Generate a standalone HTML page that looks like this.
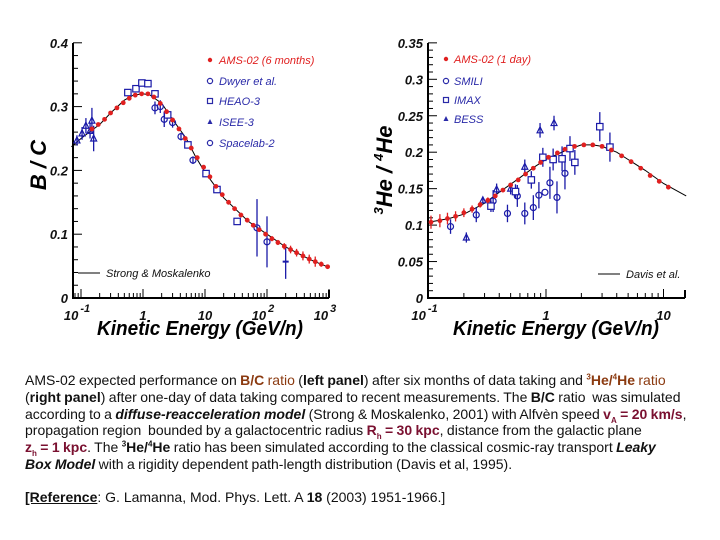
<!DOCTYPE html>
<html><head><meta charset="utf-8">
<style>
html,body{margin:0;padding:0;background:#fff;}
body{width:720px;height:540px;position:relative;overflow:hidden;font-family:"Liberation Sans",Arial,sans-serif;}
#cap{position:absolute;left:25px;top:372px;width:695px;font-size:14px;line-height:16.8px;color:#111;letter-spacing:0;word-spacing:-0.5px;white-space:nowrap;}
#cap sup,#cap sub{font-size:8px;line-height:0;}
#cap .br{color:#8b3a10;}
#cap .mr{color:#7a1030;font-weight:bold;}
#ref{position:absolute;left:25px;top:489px;font-size:14px;color:#111;letter-spacing:0;white-space:nowrap;}
</style></head><body>
<svg id="chart" width="720" height="370" style="position:absolute;left:0;top:0" xmlns="http://www.w3.org/2000/svg"></svg>
<div id="cap">AMS-02 expected performance on <b class="br">B/C</b> <span class="br">ratio</span> (<b>left panel</b>) after six months of data taking and <b class="br"><sup>3</sup>He/<sup>4</sup>He</b> <span class="br">ratio</span><br>(<b>right panel</b>) after one-day of data taking compared to recent measurements. The <b>B/C</b> ratio&nbsp; was simulated<br>according to a <b><i>diffuse-reacceleration model</i></b> (Strong &amp; Moskalenko, 2001) with Alfvèn speed <span class="mr">v<sub>A</sub> = 20 km/s</span>,<br>propagation region&nbsp; bounded by a galactocentric radius <span class="mr">R<sub>h</sub> = 30 kpc</span>, distance from the galactic plane<br><span class="mr">z<sub>h</sub> = 1 kpc</span>. The <b><sup>3</sup>He/<sup>4</sup>He</b> ratio has been simulated according to the classical cosmic-ray transport <b><i>Leaky</i></b><br><b><i>Box Model</i></b> with a rigidity dependent path-length distribution (Davis et al, 1995).</div>
<div id="ref"><b><u>[Reference</u></b>: G. Lamanna, Mod. Phys. Lett. A <b>18</b> (2003) 1951-1966.]</div>
<script>
// ---- Left panel data (B/C) ----
const bcModelE = [0.07,0.1,0.15,0.2,0.3,0.5,0.7,1,1.3,2,3,5,7,10,20,50,100,200,500,1000];
const bcModelY = [0.237,0.25,0.263,0.272,0.29,0.31,0.318,0.32,0.318,0.305,0.28,0.25,0.222,0.197,0.157,0.12,0.1,0.08,0.06,0.048];
const bcAmsE = [0.15,0.19,0.24,0.3,0.38,0.48,0.6,0.75,0.95,1.2,1.5,1.9,2.4,3.0,3.8,4.8,6.0,7.5,9.5,12,15,19,24,30,38,48,60,75,95,120,150,190,240,300,380,480,600,750,950];
const bcAmsY = [0.265,0.272,0.28,0.29,0.298,0.306,0.313,0.318,0.32,0.32,0.315,0.305,0.292,0.279,0.265,0.25,0.235,0.22,0.205,0.19,0.175,0.162,0.15,0.14,0.13,0.122,0.114,0.107,0.1,0.093,0.087,0.081,0.076,0.071,0.066,0.061,0.057,0.053,0.049];
const bcAmsErr = [0,0,0,0,0,0,0,0,0,0,0,0,0,0,0,0,0,0,0,0,0,0,0,0,0,0,0,0,0.003,0.004,0.004,0.005,0.006,0.006,0.007,0.007,0.008,0.004,0.002];
const dwyerE = [1.56,1.9,2.2,3.0,4.1,6.4,69,100];
const dwyerY = [0.298,0.3,0.28,0.275,0.253,0.216,0.11,0.088];
const dwyerErr = [0.01,0.01,0.012,0.008,0.006,0.006,0.045,0.04];
const heaoE = [0.57,0.77,0.96,1.2,1.56,2.5,5.3,10.4,15.6,33];
const heaoY = [0.322,0.328,0.337,0.336,0.32,0.287,0.24,0.195,0.17,0.12];
const iseeE = [0.086,0.104,0.12,0.14,0.15,0.16];
const iseeY = [0.247,0.258,0.27,0.262,0.278,0.25];
const iseeErr = [0.008,0.01,0.012,0.012,0.02,0.02];
const spaceE = [200];
const spaceY = [0.057];
const spaceErr = [0.027];
const bcYTicks = [0,0.1,0.2,0.3,0.4];
const bcYLabels = ["0","0.1","0.2","0.3","0.4"];

// ---- Right panel data (3He/4He) ----
const heModelE = [0.1,0.15,0.2,0.3,0.4,0.6,0.8,1,1.5,2,2.5,3,4,5,7,10,15.6];
const heModelY = [0.104,0.109,0.115,0.13,0.145,0.165,0.18,0.19,0.203,0.21,0.21,0.208,0.2,0.19,0.175,0.157,0.14];
const heAmsE = [0.105,0.125,0.145,0.17,0.2,0.235,0.275,0.32,0.37,0.43,0.5,0.58,0.67,0.78,0.9,1.05,1.25,1.45,1.75,2.1,2.5,3.0,3.6,4.4,5.3,6.4,7.7,9.2,11];
const heAmsY = [0.104,0.106,0.109,0.112,0.117,0.122,0.128,0.134,0.14,0.148,0.155,0.162,0.17,0.178,0.186,0.193,0.199,0.204,0.208,0.21,0.21,0.208,0.203,0.195,0.187,0.178,0.168,0.16,0.152];
const heAmsErr = [0.009,0.009,0.008,0.007,0.006,0.005,0.004,0.004,0.003,0.003,0.003,0.003,0.003,0.003,0.003,0.002,0.002,0.002,0.002,0.002,0.002,0.002,0.002,0.001,0.001,0.001,0.001,0.001,0.001];
const smiliE = [0.154,0.255,0.355,0.47,0.57,0.66,0.78,0.87,0.98,1.08,1.24,1.45];
const smiliY = [0.098,0.114,0.133,0.116,0.14,0.116,0.124,0.141,0.145,0.158,0.138,0.171];
const smiliErr = [0.01,0.01,0.015,0.012,0.015,0.015,0.017,0.018,0,0.022,0.022,0.022];
const imaxE = [0.34,0.55,0.75,0.94,1.15,1.37,1.6,1.76,2.87,3.5];
const imaxY = [0.126,0.146,0.162,0.193,0.19,0.191,0.205,0.186,0.235,0.207];
const imaxErr = [0.008,0.01,0.012,0.013,0.015,0.017,0.017,0.017,0.02,0.02];
const bessE = [0.21,0.29,0.38,0.5,0.66,0.89,1.17];
const bessY = [0.083,0.134,0.149,0.15,0.18,0.23,0.24];
const bessErr = [0.007,0.004,0.008,0.008,0.01,0.01,0.01];
const heYTicks = [0,0.05,0.1,0.15,0.2,0.25,0.3,0.35];
const heYLabels = ["0","0.05","0.1","0.15","0.2","0.25","0.3","0.35"];

const NS = "http://www.w3.org/2000/svg";
const svg = document.getElementById('chart');
function mk(tag, attrs, parent){const e=document.createElementNS(NS,tag);for(const k in attrs)e.setAttribute(k,attrs[k]);(parent||svg).appendChild(e);return e;}

function panel(cfg){
  const g = mk('g',{});
  
  
  const X = e => cfg.x0 + (Math.log10(e) - Math.log10(cfg.eRef)) * cfg.dec;
  const Y = v => cfg.yb - v * cfg.ys;
  const ax = mk('path',{d:`M${cfg.left},${cfg.top} V${cfg.yb} H${cfg.right}`,stroke:'#000','stroke-width':2,fill:'none'},g);
  
  
  mk('line',{x1:cfg.right,y1:cfg.yb,x2:cfg.right,y2:cfg.yb-8,stroke:'#000','stroke-width':2},g);
  for(let v=0; v<=cfg.ymax+1e-9; v+=cfg.minor){
    const major = cfg.yTicks.some(t=>Math.abs(t-v)<1e-6);
    mk('line',{x1:cfg.left,x2:cfg.left+(major?9:5),y1:Y(v),y2:Y(v),stroke:'#000','stroke-width':1},g);
  }
  cfg.yTicks.forEach((t,i)=>{
    const tx = mk('text',{x:cfg.left-5,y:Y(t)+5,'text-anchor':'end','font-size':13,'font-weight':'bold','font-style':'italic',fill:'#111'},g);
    tx.textContent = cfg.yLabels[i];
    
    
  });
  for(let d=cfg.dMin; d<=cfg.dMax; d++){
    for(let m=1;m<10;m++){
      const e = m*Math.pow(10,d); const x = X(e);
      if(x < cfg.left-0.5 || x > cfg.right+0.5) continue;
      mk('line',{x1:x,x2:x,y1:cfg.yb,y2:cfg.yb-(m===1?9:5),stroke:'#000','stroke-width':1},g);
    }
  }
  cfg.xLabels.forEach(l=>{
    const x = X(l.e);
    const t = mk('text',{x:x-(l.exp?4:0),y:cfg.yb+22,'text-anchor':'middle','font-size':13,'font-weight':'bold','font-style':'italic',fill:'#111'},g);
    t.textContent = l.base;
    
    
    if(l.exp){const s=mk('tspan',{dy:-8,'font-size':11,dx:2},t); s.textContent=l.exp;}
  });
  const xt = mk('text',{x:cfg.xtx-103,y:cfg.yb+37,'font-size':20,'font-weight':'bold','font-style':'italic',fill:'#000',textLength:206,lengthAdjust:'spacingAndGlyphs'},g);
  xt.textContent = 'Kinetic Energy (GeV/n)';
  
  
  const yt = mk('text',{x:0,y:0,transform:`translate(${cfg.ytx},${cfg.yty}) rotate(-90)`,'text-anchor':'middle','font-size':22,'font-weight':'bold','font-style':'italic',fill:'#000'},g);
  
  
  if(cfg.yTitleHe){
    let s=mk('tspan',{'font-size':13,dy:-9},yt); s.textContent='3';
    s=mk('tspan',{dy:9},yt); s.textContent='He / ';
    s=mk('tspan',{'font-size':13,dy:-9},yt); s.textContent='4';
    s=mk('tspan',{dy:9},yt); s.textContent='He';
  } else yt.textContent = cfg.yTitle;
  let d='';
  cfg.mE.forEach((e,i)=>{d+=(i?'L':'M')+X(e).toFixed(1)+','+Y(cfg.mY[i]).toFixed(1);});
  const ml = mk('path',{d,stroke:'#000','stroke-width':1,fill:'none'},g);
  
  
  cfg.series.forEach(s=>{
    s.E.forEach((e,i)=>{
      const x=X(e), y=Y(s.Y[i]), er=(s.err? s.err[i]:0)*cfg.ys;
      if(er>0){ const l=mk('line',{x1:x,x2:x,y1:y-er,y2:y+er,stroke:s.color,'stroke-width':1.3},g);
        
        }
      let m;
      if(s.shape==='dot') m=mk('circle',{cx:x,cy:y,r:2.4,fill:s.color},g);
      else if(s.shape==='circle') m=mk('circle',{cx:x,cy:y,r:3,fill:'none',stroke:s.color,'stroke-width':1.2},g);
      else if(s.shape==='square') m=mk('rect',{x:x-3.2,y:y-3.2,width:6.4,height:6.4,fill:'#fff',stroke:s.color,'stroke-width':1.2},g);
      else if(s.shape==='tri') m=mk('path',{d:`M${x},${y-3.5}L${x+3},${y+2.5}L${x-3},${y+2.5}Z`,fill:'none',stroke:s.color,'stroke-width':1.2},g);
      else if(s.shape==='plus') m=mk('path',{d:`M${x-3},${y}H${x+3}`,stroke:s.color,'stroke-width':2},g);
      
      
    });
  });
  cfg.legend.forEach(L=>{
    let m;
    if(L.shape==='dot') m=mk('circle',{cx:L.x,cy:L.y-4,r:2.2,fill:L.color},g);
    else if(L.shape==='circle') m=mk('circle',{cx:L.x,cy:L.y-4,r:2.6,fill:'none',stroke:L.color,'stroke-width':1.2},g);
    else if(L.shape==='square') m=mk('rect',{x:L.x-2.5,y:L.y-6.5,width:5,height:5,fill:'none',stroke:L.color,'stroke-width':1.2},g);
    else if(L.shape==='tri') m=mk('path',{d:`M${L.x},${L.y-7}L${L.x+2.5},${L.y-2}L${L.x-2.5},${L.y-2}Z`,fill:L.color},g);
    else if(L.shape==='line') m=mk('line',{x1:L.x,x2:L.x+22,y1:L.y-4,y2:L.y-4,stroke:'#000','stroke-width':1},g);
    
    
    const t=mk('text',{x:L.tx,y:L.y,'font-size':11,'font-style':'italic',fill:L.color},g);
    t.textContent=L.text;
    
    
  });
}

panel({name:'bc-panel', left:73,right:329,top:43,yb:298,x0:143,eRef:1,dec:62,ys:638,ymax:0.4,minor:0.02,
  yTicks:bcYTicks,yLabels:bcYLabels,dMin:-2,dMax:3,
  xLabels:[{e:0.1,base:'10',exp:'-1'},{e:1,base:'1'},{e:10,base:'10'},{e:100,base:'10',exp:'2'},{e:1000,base:'10',exp:'3'}],
  xtx:200,ytx:46,yty:165,yTitle:'B / C',
  mE:bcModelE,mY:bcModelY,
  series:[
    {key:'isee3',E:iseeE,Y:iseeY,err:iseeErr,shape:'tri',color:'#1a1aa8'},
    {key:'dwyer',E:dwyerE,Y:dwyerY,err:dwyerErr,shape:'circle',color:'#1a1aa8'},
    {key:'heao3',E:heaoE,Y:heaoY,shape:'square',color:'#1a1aa8'},
    {key:'spacelab2',E:spaceE,Y:spaceY,err:spaceErr,shape:'plus',color:'#1a1aa8'},
    {key:'ams02-6months',E:bcAmsE,Y:bcAmsY,err:bcAmsErr,shape:'dot',color:'#e02020'}
  ],
  legend:[
    {shape:'dot',x:210,y:64,tx:219,text:'AMS-02 (6 months)',color:'#e02020'},
    {shape:'circle',x:210,y:85,tx:219,text:'Dwyer et al.',color:'#2a2aa8'},
    {shape:'square',x:210,y:105,tx:219,text:'HEAO-3',color:'#2a2aa8'},
    {shape:'tri',x:210,y:126,tx:219,text:'ISEE-3',color:'#2a2aa8'},
    {shape:'circle',x:210,y:147,tx:219,text:'Spacelab-2',color:'#2a2aa8'},
    {shape:'line',x:78,y:277,tx:106,text:'Strong & Moskalenko',color:'#111'}
  ]});

panel({name:'he-ratio-panel', left:428,right:685,top:43,yb:298,x0:546,eRef:1,dec:117.5,ys:729,ymax:0.35,minor:0.01,
  yTicks:heYTicks,yLabels:heYLabels,dMin:-1,dMax:1,
  xLabels:[{e:0.1,base:'10',exp:'-1'},{e:1,base:'1'},{e:10,base:'10'}],
  xtx:556,ytx:392,yty:170,yTitleHe:true,
  mE:heModelE,mY:heModelY,
  series:[
    {key:'bess',E:bessE,Y:bessY,err:bessErr,shape:'tri',color:'#1a1aa8'},
    {key:'smili',E:smiliE,Y:smiliY,err:smiliErr,shape:'circle',color:'#1a1aa8'},
    {key:'imax',E:imaxE,Y:imaxY,err:imaxErr,shape:'square',color:'#1a1aa8'},
    {key:'ams02-1day',E:heAmsE,Y:heAmsY,err:heAmsErr,shape:'dot',color:'#e02020'}
  ],
  legend:[
    {shape:'dot',x:446,y:63,tx:454,text:'AMS-02 (1 day)',color:'#e02020'},
    {shape:'circle',x:446,y:85,tx:454,text:'SMILI',color:'#2a2aa8'},
    {shape:'square',x:446,y:104,tx:454,text:'IMAX',color:'#2a2aa8'},
    {shape:'tri',x:446,y:123,tx:454,text:'BESS',color:'#2a2aa8'},
    {shape:'line',x:598,y:278,tx:626,text:'Davis et al.',color:'#111'}
  ]});
</script>
</body></html>
